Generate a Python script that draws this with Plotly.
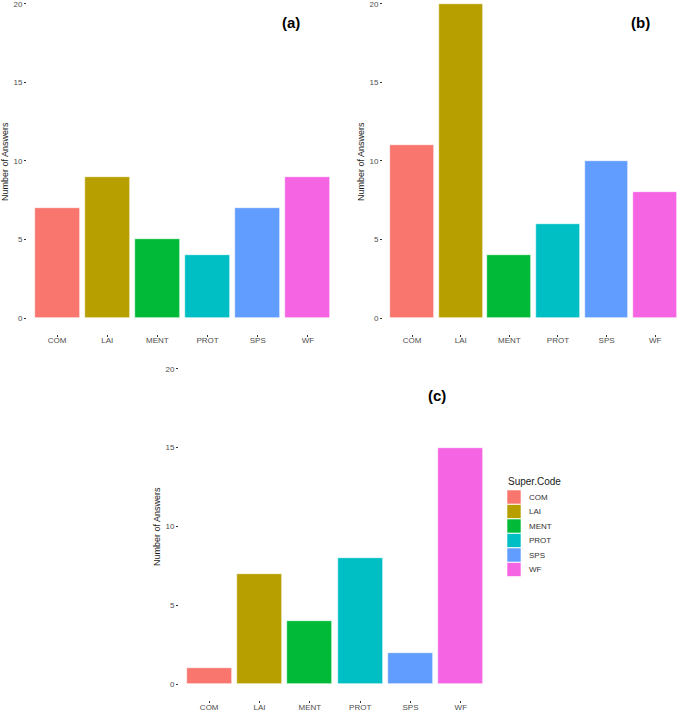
import plotly.graph_objects as go

categories = ["COM", "LAI", "MENT", "PROT", "SPS", "WF"]
values_a = [7, 9, 5, 4, 7, 9]
values_b = [11, 20, 4, 6, 10, 8]
values_c = [1, 7, 4, 8, 2, 15]
y_ticks = [0, 5, 10, 15, 20]
colors = ["#F8766D", "#B79F00", "#00BA38", "#00BFC4", "#619CFF", "#F564E3"]
panel_labels = ["(a)", "(b)", "(c)"]

W, H = 678, 711
FONT = "Liberation Sans, Arial, sans-serif"


def px(x):
    return x / W


def py(y):
    return 1 - y / H


fig = go.Figure()
panels = [(values_a, "x", "y"), (values_b, "x2", "y2"), (values_c, "x3", "y3")]
for vals, xa, ya in panels:
    fig.add_trace(go.Bar(
        x=categories, y=vals, xaxis=xa, yaxis=ya, width=0.9,
        marker=dict(color=colors, line=dict(color="white", width=0.6)),
        showlegend=False, hoverinfo="x+y",
    ))

axis_common = dict(showgrid=False, zeroline=False, showline=False, ticks="outside",
                   ticklen=2, tickwidth=1, tickcolor="#333333", automargin=False,
                   ticklabeloverflow="allow",
                   tickfont=dict(family=FONT, size=8, color="#4D4D4D"))
x_extra = dict(ticklabelstandoff=-3)

fig.update_layout(
    width=W, height=H, margin=dict(l=0, r=0, t=0, b=0, autoexpand=False),
    plot_bgcolor="white", paper_bgcolor="white", bargap=0,
    font=dict(family=FONT),
    xaxis=dict(domain=[px(27), px(338)], range=[-0.6, 5.6], anchor="y",
               **axis_common, **x_extra),
    yaxis=dict(domain=[py(333.7), py(0)], range=[-1, 20.25], anchor="x",
               tickvals=y_ticks, **axis_common),
    xaxis2=dict(domain=[px(383), 1], range=[-0.6, 5.47], anchor="y2",
                **axis_common, **x_extra),
    yaxis2=dict(domain=[py(333.7), py(0)], range=[-1, 20.25], anchor="x2",
                tickvals=y_ticks, **axis_common),
    xaxis3=dict(domain=[px(179), px(491)], range=[-0.6, 5.6], anchor="y3",
                **axis_common, **x_extra),
    yaxis3=dict(domain=[py(700), py(353)], range=[-1, 21], anchor="x3",
                tickvals=y_ticks, **axis_common),
)

annotations = []
# y axis titles
for x_pix, y_pix in [(5, 162), (361, 162), (157, 527)]:
    annotations.append(dict(x=px(x_pix), y=py(y_pix), xref="paper", yref="paper",
                            text="Number of Answers", textangle=-90, showarrow=False,
                            font=dict(family=FONT, size=9, color="#1A1A1A"),
                            xanchor="center", yanchor="middle"))
# panel labels
for lab, (x_pix, y_pix) in zip(panel_labels, [(291, 23), (640, 23), (437, 395)]):
    annotations.append(dict(x=px(x_pix), y=py(y_pix), xref="paper", yref="paper",
                            text="<b>" + lab + "</b>", showarrow=False,
                            font=dict(family=FONT, size=15, color="black"),
                            xanchor="center", yanchor="middle"))
# legend title
annotations.append(dict(x=px(506), y=py(481), xref="paper", yref="paper",
                        text="Super.Code", showarrow=False,
                        font=dict(family=FONT, size=10, color="#1A1A1A"),
                        xanchor="left", yanchor="middle"))

shapes = []
row0, pitch = 497, 14.5
for i, (cat, col) in enumerate(zip(categories, colors)):
    yc = row0 + i * pitch
    shapes.append(dict(type="rect", xref="paper", yref="paper",
                       x0=px(507), x1=px(521), y0=py(yc + 7), y1=py(yc - 7),
                       fillcolor=col, line=dict(color="white", width=0.6)))
    annotations.append(dict(x=px(527), y=py(yc), xref="paper", yref="paper",
                            text=cat, showarrow=False,
                            font=dict(family=FONT, size=8, color="#333333"),
                            xanchor="left", yanchor="middle"))

fig.update_layout(annotations=annotations, shapes=shapes)
fig.write_html("out.html", config={"displayModeBar": False},
               post_script="document.body.style.margin='0';document.body.style.overflow='hidden';")
